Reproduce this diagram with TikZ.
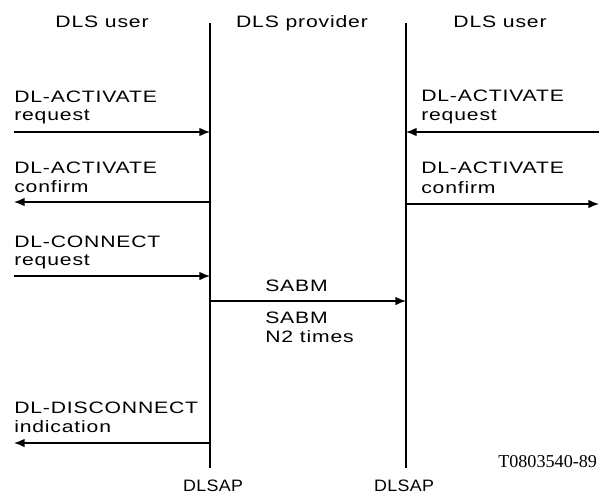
\documentclass[tikz,border=0pt]{standalone}
\usepackage{fontspec}
\setmainfont{Liberation Sans}[FakeStretch=1.28,LetterSpace=5]
\newfontfamily\sapfont{Liberation Sans}[FakeStretch=1.08,LetterSpace=2]
\newfontfamily\figfont{Liberation Serif}
\usetikzlibrary{arrows.meta}

\tikzset{
  lbl/.style={anchor=base west,inner sep=0pt,font=\fontsize{12.4}{14}\selectfont},
  hdr/.style={anchor=base,inner sep=0pt,font=\fontsize{12.4}{14}\selectfont},
  saplbl/.style={anchor=base,inner sep=0pt,font={\sapfont\fontsize{12.4}{14}\selectfont}},
  msg/.style={line width=1.1pt,-{Latex[length=8pt,width=6.5pt]}},
  sap/.style={line width=1.5pt}
}

\begin{document}
\begin{tikzpicture}[x=0.75pt,y=0.75pt,yscale=-1,xscale=1]
\useasboundingbox (0,0) rectangle (599,497);

%Service access points (left and right)
\coordinate (ltop) at (210,23);
\coordinate (lbot) at (210,468);
\coordinate (rtop) at (406,23);
\coordinate (rbot) at (406,468);
\draw [sap] (ltop) -- (lbot);
\draw [sap] (rtop) -- (rbot);

%Arrow ends
\coordinate (la1) at (14,132);  \coordinate (lb1) at (210,132);
\coordinate (la2) at (14,202);  \coordinate (lb2) at (210,202);
\coordinate (la3) at (14,276);  \coordinate (lb3) at (210,276);
\coordinate (la4) at (14,443);  \coordinate (lb4) at (210,443);
\coordinate (ra1) at (599,132); \coordinate (rb1) at (406,132);
\coordinate (ra2) at (599,204); \coordinate (rb2) at (406,204);
\coordinate (sa) at (210,301);  \coordinate (sb) at (406,301);

%Primitives
\draw [msg] (la1) -- (lb1);
\draw [msg] (lb2) -- (la2);
\draw [msg] (la3) -- (lb3);
\draw [msg] (lb4) -- (la4);
\draw [msg] (ra1) -- (rb1);
\draw [msg] (rb2) -- (ra2);
\draw [msg] (sa) -- (sb);

% Text Node
\node [hdr] (userL) at (102,27) {DLS user};
\node [hdr] (prov) at (302,27) {DLS provider};
\node [hdr] (userR) at (500,27) {DLS user};
% Text Node
\node [lbl] (actL) at (14,102) {DL-ACTIVATE};
\node [lbl] (actreqL) at (14,120) {request};
\node [lbl] (actcL) at (14,173) {DL-ACTIVATE};
\node [lbl] (actconfL) at (14,192) {confirm};
\node [lbl] (conL) at (14,247) {DL-CONNECT};
\node [lbl] (conreqL) at (14,265) {request};
\node [lbl] (discL) at (14,413) {DL-DISCONNECT};
\node [lbl] (discindL) at (14,432) {indication};
% Text Node
\node [lbl] (actR) at (421,101) {DL-ACTIVATE};
\node [lbl] (actreqR) at (421,120) {request};
\node [lbl] (actcR) at (421,173) {DL-ACTIVATE};
\node [lbl] (actconfR) at (421,193) {confirm};
% Text Node
\node [lbl] (sabm) at (265,291) {SABM};
\node [lbl] (sabmrep) at (265,323) {SABM};
\node [lbl] (ntimes) at (265,342) {N2 times};
% Text Node
\node [saplbl] (sapL) at (213,491) {DLSAP};
\node [saplbl] (sapR) at (404,491) {DLSAP};
\node [anchor=base west,inner sep=0pt,font=\figfont\fontsize{13.6}{16}\selectfont] (figno) at (498,467) {T0803540-89};

\end{tikzpicture}
\end{document}
